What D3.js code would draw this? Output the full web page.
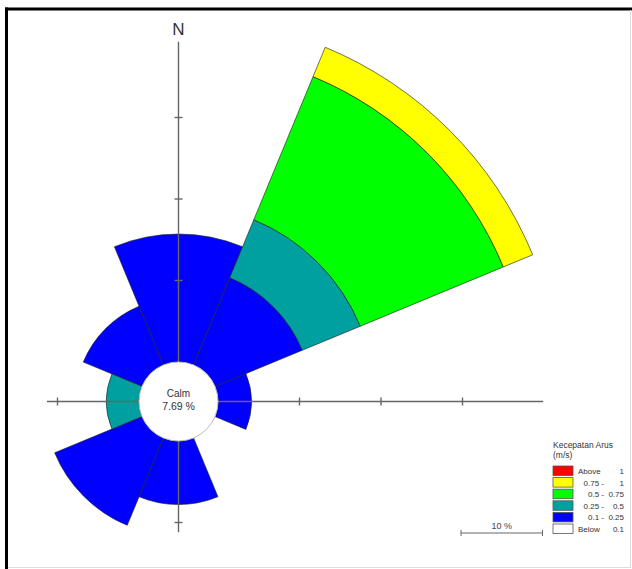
<!DOCTYPE html>
<html>
<head>
<meta charset="utf-8">
<script src="https://cdn.jsdelivr.net/npm/d3@7"></script>
<style>
  body { margin: 0; background: #fff; }
  text { font-family: Arial, "Liberation Sans", sans-serif; }
</style>
</head>
<body>
<svg id="chart" width="632" height="569"></svg>
<script>
// Directions (8 sectors, 45 degrees each)
const directions = ["N", "NE", "E", "SE", "S", "SW", "W", "NW"];

// Speed classes (m/s), inner to outer
const speedClasses = ["0.1 - 0.25", "0.25 - 0.5", "0.5 - 0.75", "0.75 - 1", "Above 1"];
const classColors = ["#0000ff", "#00a0a0", "#00ff00", "#ffff00", "#ff0000"];

// Frequency (%) per class per direction
const class1 = [15.7, 11.6, 4.1, 0, 7.8, 11.6, 0, 7.8];   // 0.1 - 0.25
const class2 = [0, 7.7, 0, 0, 0, 0, 4.0, 0];              // 0.25 - 0.5
const class3 = [0, 19.0, 0, 0, 0, 0, 0, 0];               // 0.5 - 0.75
const class4 = [0, 3.9, 0, 0, 0, 0, 0, 0];                // 0.75 - 1
const class5 = [0, 0, 0, 0, 0, 0, 0, 0];                  // Above 1

const calmValue = "7.69 %";
const axisTicks = [10, 20, 30];

// Legend rows, top to bottom
const legendLeft = ["Above", "0.75 -", "0.5 -", "0.25 -", "0.1 -", "Below"];
const legendRight = ["1", "1", "0.75", "0.5", "0.25", "0.1"];
const legendColors = ["#ff0000", "#ffff00", "#00ff00", "#00a0a0", "#0000ff", "#ffffff"];

// Set up dimensions
const cx = 178.5;
const cy = 401.5;
const calmRadius = 39.5;
const pxPerPercent = 8.15;

const svg = d3.select("#chart");

// Frame
svg.append("rect").attr("width", 632).attr("height", 569).attr("fill", "#fff");
svg.append("line").attr("x1", 5).attr("x2", 632).attr("y1", 9).attr("y2", 9)
  .attr("stroke", "#000").attr("stroke-width", 3);
svg.append("line").attr("x1", 6.5).attr("x2", 6.5).attr("y1", 7.5).attr("y2", 569)
  .attr("stroke", "#000").attr("stroke-width", 3);
svg.append("line").attr("x1", 630.5).attr("x2", 630.5).attr("y1", 10).attr("y2", 568)
  .attr("stroke", "#ddd").attr("stroke-width", 1);
svg.append("line").attr("x1", 8).attr("x2", 631).attr("y1", 567.5).attr("y2", 567.5)
  .attr("stroke", "#ddd").attr("stroke-width", 1);

// Radial scale (percent -> radius, starting at calm circle)
const rScale = d3
  .scaleLinear()
  .domain([0, 40])
  .range([calmRadius, calmRadius + 40 * pxPerPercent]);

// Stack the classes per direction
const table = directions.map((d, i) => ({
  dir: d,
  c0: class1[i],
  c1: class2[i],
  c2: class3[i],
  c3: class4[i],
  c4: class5[i]
}));
const stack = d3.stack().keys(["c0", "c1", "c2", "c3", "c4"]);
const series = stack(table);

const angle = d3
  .scaleBand()
  .domain(directions)
  .range([-Math.PI / 8, 2 * Math.PI - Math.PI / 8]);

const arc = d3
  .arc()
  .innerRadius((d) => rScale(d[0]))
  .outerRadius((d) => rScale(d[1]))
  .startAngle((d) => angle(d.data.dir))
  .endAngle((d) => angle(d.data.dir) + angle.bandwidth());

const g = svg.append("g").attr("transform", `translate(${cx},${cy})`);

// Sectors
series.forEach((s, k) => {
  g.append("g")
    .selectAll("path")
    .data(s.filter((d) => d[1] > d[0]))
    .join("path")
    .attr("d", arc)
    .attr("fill", classColors[k])
    .attr("stroke", "#222")
    .attr("stroke-opacity", 0.7)
    .attr("stroke-width", 0.9);
});

// Axes (drawn over the sectors)
const axisG = g.append("g").attr("stroke", "#666").attr("stroke-width", 1.4);
const axisEnds = { right: 39.9, up: 39.3, left: 11.3, down: 11.2 };
axisG.append("line")
  .attr("x1", -rScale(axisEnds.left)).attr("x2", rScale(axisEnds.right))
  .attr("y1", 0).attr("y2", 0);
axisG.append("line")
  .attr("x1", 0).attr("x2", 0)
  .attr("y1", -rScale(axisEnds.up)).attr("y2", rScale(axisEnds.down));

// Ticks
axisTicks.forEach((t) => {
  const r = rScale(t);
  if (t <= axisEnds.right) axisG.append("line").attr("x1", r).attr("x2", r).attr("y1", -4).attr("y2", 4);
  if (t <= axisEnds.left) axisG.append("line").attr("x1", -r).attr("x2", -r).attr("y1", -4).attr("y2", 4);
  if (t <= axisEnds.up) axisG.append("line").attr("x1", -4).attr("x2", 4).attr("y1", -r).attr("y2", -r);
  if (t <= axisEnds.down) axisG.append("line").attr("x1", -4).attr("x2", 4).attr("y1", r).attr("y2", r);
});

// Calm circle
g.append("circle")
  .attr("r", calmRadius)
  .attr("fill", "#fff")
  .attr("stroke", "#bbb")
  .attr("stroke-width", 1);

g.append("text")
  .attr("y", -5)
  .style("text-anchor", "middle")
  .style("font-size", "10px")
  .attr("fill", "#333")
  .text("Calm");

g.append("text")
  .attr("y", 8)
  .style("text-anchor", "middle")
  .style("font-size", "10.5px")
  .attr("fill", "#333")
  .text(calmValue);

// North label
g.append("text")
  .attr("y", -rScale(axisEnds.up) - 7)
  .style("text-anchor", "middle")
  .style("font-size", "17px")
  .attr("fill", "#333")
  .text("N");

// Scale bar (10 %)
const barX = 461;
const barY = 533;
const barLen = rScale(10) - rScale(0);
const bar = svg.append("g").attr("stroke", "#666").attr("stroke-width", 1);
bar.append("line").attr("x1", barX).attr("x2", barX + barLen).attr("y1", barY).attr("y2", barY);
bar.append("line").attr("x1", barX).attr("x2", barX).attr("y1", barY - 3).attr("y2", barY + 3);
bar.append("line").attr("x1", barX + barLen).attr("x2", barX + barLen).attr("y1", barY - 3).attr("y2", barY + 3);
svg.append("text")
  .attr("x", barX + barLen / 2)
  .attr("y", barY - 4)
  .style("text-anchor", "middle")
  .style("font-size", "9px")
  .attr("fill", "#444")
  .text("10 %");

// Legend
const legend = svg.append("g").attr("class", "legend");
legend.append("text")
  .attr("x", 553).attr("y", 448)
  .style("font-size", "8.5px").attr("fill", "#333")
  .text("Kecepatan Arus");
legend.append("text")
  .attr("x", 553).attr("y", 458)
  .style("font-size", "8.5px").attr("fill", "#333")
  .text("(m/s)");

legendColors.forEach((c, i) => {
  const y = 466 + i * 11.6;
  legend.append("rect")
    .attr("x", 553).attr("y", y)
    .attr("width", 20).attr("height", 9.5)
    .attr("fill", c)
    .attr("stroke", "#555").attr("stroke-width", 0.8);
  legend.append("text")
    .attr("x", i === 0 || i === 5 ? 578 : 604).attr("y", y + 8)
    .style("text-anchor", i === 0 || i === 5 ? "start" : "end")
    .style("font-size", "8px").attr("fill", "#333")
    .text(legendLeft[i]);
  legend.append("text")
    .attr("x", 624).attr("y", y + 8)
    .style("text-anchor", "end")
    .style("font-size", "8px").attr("fill", "#333")
    .text(legendRight[i]);
});
</script>
</body>
</html>
